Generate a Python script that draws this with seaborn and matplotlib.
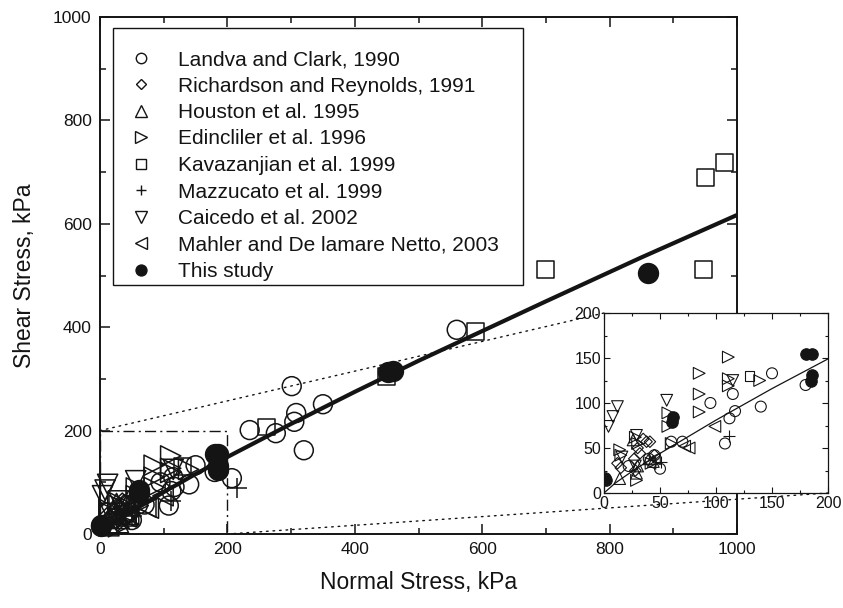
import matplotlib
matplotlib.use("Agg")
import matplotlib.pyplot as plt
import seaborn as sns
import pandas as pd
from matplotlib.lines import Line2D
from matplotlib.patches import ConnectionPatch, Rectangle
from matplotlib.ticker import MultipleLocator

# ---------------- data (normal stress, shear stress in kPa) ----------------
landva_x = [95, 115, 117, 112, 108, 140, 150, 180, 60, 70, 50, 40, 22, 45,
            207, 235, 276, 301, 308, 305, 350, 320, 560]
landva_y = [100, 110, 91, 83, 55, 96, 133, 120, 57, 57, 27, 38, 30, 42,
            108, 201, 195, 286, 234, 217, 251, 162, 395]

richardson_x = [12, 15, 27, 30, 32, 35, 38, 41, 45, 28]
richardson_y = [33, 28, 38, 50, 44, 60, 57, 57, 42, 25]

houston_x = [14, 26, 29, 44, 30, 40]
houston_y = [16, 59, 22, 35, 30, 38]

edincliler_x = [111, 85, 85, 85, 111, 111, 57, 57, 139, 14, 29, 28, 30, 42, 60, 15]
edincliler_y = [151, 133, 110, 90, 127, 119, 89, 74, 125, 48, 14, 62, 55, 33, 55, 42]

kavazanjian_x = [130, 261, 450, 590, 700, 948, 950, 980]
kavazanjian_y = [130, 207, 304, 391, 511, 511, 690, 718]

mazzucato_x = [112, 51, 215]
mazzucato_y = [63, 35, 89]

caicedo_x = [12, 8, 4, 56, 115, 29, 16, 28]
caicedo_y = [96, 85, 74, 103, 125, 64, 40, 30]

mahler_x = [99, 72, 76, 41, 45]
mahler_y = [74, 52, 50, 33, 38]

study_x = [2, 1, 62, 61, 180, 186, 186, 185, 452, 460, 860]
study_y = [15, 17, 85, 79, 154, 154, 131, 124, 313, 315, 505]

# trend line
fit_x = [0, 10, 25, 50, 100, 150, 200, 300, 400, 500, 700, 850, 1000]
fit_y = [0, 11, 24, 44, 81, 116, 149, 213, 275, 335, 450, 535, 617]

labels = ["Landva and Clark, 1990", "Richardson and Reynolds, 1991",
          "Houston et al. 1995", "Edincliler et al. 1996",
          "Kavazanjian et al. 1999", "Mazzucato et al. 1999",
          "Caicedo et al. 2002", "Mahler and De lamare Netto, 2003",
          "This study"]
xs = [landva_x, richardson_x, houston_x, edincliler_x, kavazanjian_x,
      mazzucato_x, caicedo_x, mahler_x, study_x]
ys = [landva_y, richardson_y, houston_y, edincliler_y, kavazanjian_y,
      mazzucato_y, caicedo_y, mahler_y, study_y]

df = pd.concat([pd.DataFrame({"normal": x, "shear": y, "study": l})
                for l, x, y in zip(labels, xs, ys)], ignore_index=True)
fit = pd.DataFrame({"normal": fit_x, "shear": fit_y})

# marker, filled, relative area
styles = {
    labels[0]: ("o", False, 1.0),
    labels[1]: ("D", False, 0.55),
    labels[2]: ("^", False, 1.15),
    labels[3]: (">", False, 1.15),
    labels[4]: ("s", False, 0.8),
    labels[5]: ("+", False, 1.1),
    labels[6]: ("v", False, 1.15),
    labels[7]: ("<", False, 1.15),
    labels[8]: ("o", True, 1.1),
}

sns.set_style("ticks")
plt.rcParams["font.family"] = ["Liberation Sans", "DejaVu Sans"]

INK = "#141414"
W, H = 843, 608
fig = plt.figure(figsize=(W / 100, H / 100), dpi=100)
ax = fig.add_axes([100 / W, 1 - 534 / H, 637 / W, 517 / H])
axin = fig.add_axes([604 / W, 1 - 493 / H, 224 / W, 180 / H])


def draw(a, base, lw, line_w, clip):
    sns.lineplot(data=fit, x="normal", y="shear", ax=a, color=INK, lw=line_w,
                 sort=False, estimator=None, zorder=2.5, legend=False)
    for lab in labels:
        m, filled, rel = styles[lab]
        sub = df[df.study == lab]
        kw = dict(marker=m, s=base * rel, linewidth=lw, legend=False, ax=a,
                  zorder=3 if not filled else 4, clip_on=clip)
        if m == "+":
            kw.update(color=INK)
        elif filled:
            kw.update(facecolor=INK, edgecolor=INK)
        else:
            kw.update(facecolor="none", edgecolor=INK)
        sns.scatterplot(data=sub, x="normal", y="shear", **kw)


draw(ax, 185, 1.1, 3.0, False)
draw(axin, 62, 0.8, 0.9, True)

# main axes formatting
ax.set_xlim(0, 1000)
ax.set_ylim(0, 1000)
ax.xaxis.set_major_locator(MultipleLocator(200))
ax.xaxis.set_minor_locator(MultipleLocator(100))
ax.yaxis.set_major_locator(MultipleLocator(200))
ax.yaxis.set_minor_locator(MultipleLocator(100))
ax.tick_params(which="both", direction="in", top=True, right=True,
               width=1.1, color=INK, labelsize=12.5, labelcolor=INK, pad=6)
ax.tick_params(which="major", length=7)
ax.tick_params(which="minor", length=4)
for sp in ax.spines.values():
    sp.set_linewidth(1.4)
    sp.set_color(INK)
    sp.set_zorder(5)
ax.set_xlabel("Normal Stress, kPa", fontsize=16.5, color=INK, labelpad=10)
ax.set_ylabel("Shear Stress, kPa", fontsize=16.5, color=INK, labelpad=12)

# inset formatting
axin.set_xlim(0, 200)
axin.set_ylim(0, 200)
axin.xaxis.set_major_locator(MultipleLocator(50))
axin.xaxis.set_minor_locator(MultipleLocator(25))
axin.yaxis.set_major_locator(MultipleLocator(50))
axin.yaxis.set_minor_locator(MultipleLocator(25))
axin.tick_params(which="both", direction="in", top=True, right=True,
                 width=0.8, color=INK, labelsize=11.5, labelcolor=INK, pad=2)
axin.tick_params(which="major", length=4)
axin.tick_params(which="minor", length=2.5)
axin.set_xlabel("")
axin.set_ylabel("")
for sp in axin.spines.values():
    sp.set_linewidth(0.9)
    sp.set_color(INK)
axin.set_facecolor("white")

# zoom box and connectors
ax.add_patch(Rectangle((0, 0), 200, 200, fill=False, ec=INK, lw=1.0,
                       ls=(0, (8, 3, 1.5, 3)), zorder=5))
for (xa, ya), (xb, yb) in [((0, 200), (0, 200)), ((200, 0), (200, 0))]:
    cp = ConnectionPatch(xyA=(xa, ya), coordsA=ax.transData,
                         xyB=(xb, yb), coordsB=axin.transData,
                         color=INK, lw=1.0, ls=(0, (1.2, 3.5)))
    fig.add_artist(cp)

# legend (frame drawn as a separate box)
lx0, lx1 = (113 - 100) / 637, (523 - 100) / 637
ly0, ly1 = (534 - 285) / 517, (534 - 28) / 517
ax.add_patch(Rectangle((lx0, ly0), lx1 - lx0, ly1 - ly0, transform=ax.transAxes,
                       fc="white", ec=INK, lw=1.0, zorder=6, clip_on=False))
handles = []
for lab in labels:
    m, filled, rel = styles[lab]
    ms = 7.5 * rel ** 0.5
    if m == "+":
        h = Line2D([], [], ls="none", marker=m, markersize=ms, color=INK, mew=1)
    elif filled:
        h = Line2D([], [], ls="none", marker=m, markersize=ms, mfc=INK, mec=INK, mew=1)
    else:
        h = Line2D([], [], ls="none", marker=m, markersize=ms, mfc="none", mec=INK, mew=1)
    handles.append(h)
leg = ax.legend(handles, labels, loc="upper left",
                bbox_to_anchor=((131 - 100) / 637, (534 - 50) / 517),
                borderaxespad=0, frameon=False, fontsize=15,
                labelspacing=0.36, handlelength=1.0, handletextpad=1.25,
                borderpad=0, labelcolor=INK)
leg.set_zorder(7)

fig.savefig("out.png", dpi=100)
